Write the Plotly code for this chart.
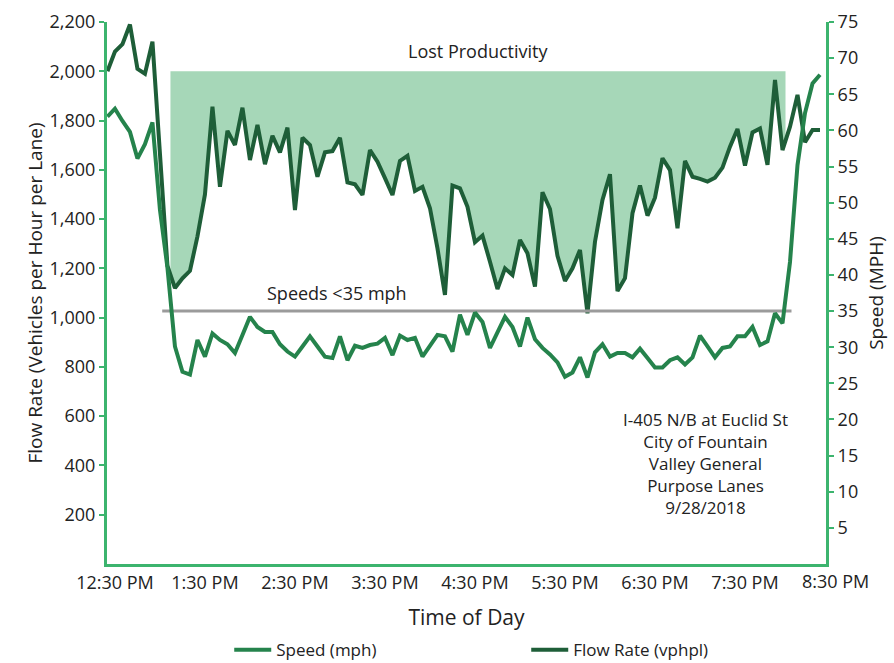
import numpy as np
import plotly.graph_objects as go

# ---------------- data ----------------
# sample times: minutes after 12:00 PM, every 5 minutes from 12:25 PM
start_min = 25
step_min = 5

flow_vphpl = [2000, 2080, 2110, 2190, 2010, 1990, 2120, 1660, 1210, 1120,
              1160, 1190, 1330, 1500, 1856, 1531, 1758, 1701, 1852, 1640,
              1782, 1623, 1738, 1671, 1771, 1437, 1730, 1701, 1572, 1671,
              1676, 1730, 1549, 1541, 1498, 1680, 1633, 1566, 1498, 1636,
              1657, 1514, 1531, 1444, 1281, 1092, 1536, 1525, 1450, 1306,
              1333, 1227, 1116, 1200, 1173, 1315, 1261, 1126, 1509, 1441,
              1251, 1149, 1200, 1275, 1018, 1308, 1478, 1582, 1108, 1160,
              1424, 1536, 1414, 1487, 1647, 1599, 1363, 1636, 1572, 1563,
              1552, 1568, 1609, 1694, 1766, 1617, 1752, 1768, 1620, 1965,
              1680, 1775, 1904, 1712, 1762, 1762]

speed_mph = [61.9, 63.0, 61.3, 59.8, 56.1, 58.1, 61.1, 49.0, 41.0, 30.1,
             26.6, 26.2, 31.0, 28.7, 31.9, 31.0, 30.4, 29.2, 31.7, 34.2,
             32.8, 32.1, 32.1, 30.4, 29.4, 28.7, 30.1, 31.5, 30.1, 28.7,
             28.5, 31.5, 28.2, 30.2, 29.9, 30.3, 30.5, 31.3, 28.9, 31.6,
             31.0, 31.3, 28.7, 30.3, 31.7, 31.5, 29.4, 34.5, 31.7, 34.8,
             33.5, 29.9, 32.2, 34.2, 32.8, 30.1, 34.1, 31.1, 29.9, 29.0,
             27.9, 25.9, 26.5, 28.6, 25.8, 29.3, 30.4, 28.7, 29.2, 29.2,
             28.6, 29.8, 28.5, 27.2, 27.2, 28.2, 28.6, 27.6, 28.6, 31.6,
             30.1, 28.6, 29.9, 30.1, 31.5, 31.5, 32.8, 30.3, 30.8, 34.7,
             33.3, 41.8, 55.2, 62.4, 66.5, 67.7]

tick_minutes = [30, 90, 150, 210, 270, 330, 390, 450, 510]
tick_labels = ["12:30 PM", "1:30 PM", "2:30 PM", "3:30 PM", "4:30 PM",
               "5:30 PM", "6:30 PM", "7:30 PM", "8:30 PM"]

flow_ticks = [200, 400, 600, 800, 1000, 1200, 1400, 1600, 1800, 2000, 2200]
speed_ticks = [5, 10, 15, 20, 25, 30, 35, 40, 45, 50, 55, 60, 65, 70, 75]

capacity_flow = 2000          # lost productivity reference flow
lost_start, lost_end = 67, 477  # minutes after noon
threshold_speed = 35
thr_start, thr_end = 61.5, 481

x_range = [24.7, 504.0]
note_text = ("I-405 N/B at Euclid St<br>City of Fountain<br>Valley General"
             "<br>Purpose Lanes<br>9/28/2018")

# ---------------- styles ----------------
FONT = "Open Sans"
TXT = "#222222"
AXIS_GREEN = "#3cb46e"
SPEED_C = "#25834c"
FLOW_C = "#1e5e38"
FILL_C = "#a6d7b8"
GRAY = "#9b9b9b"

t = start_min + step_min * np.arange(len(flow_vphpl))
flow = np.array(flow_vphpl, dtype=float)

# lost productivity polygon: between flow line and capacity
inner = (t > lost_start) & (t < lost_end)
px = np.concatenate([[lost_start], t[inner], [lost_end]])
py = np.concatenate([[np.interp(lost_start, t, flow)], flow[inner],
                     [np.interp(lost_end, t, flow)]])
poly_x = np.concatenate([px, [lost_end, lost_start, lost_start]])
poly_y = np.concatenate([py, [capacity_flow, capacity_flow, py[0]]])

fig = go.Figure()
fig.add_trace(go.Scatter(x=poly_x, y=poly_y, fill="toself", fillcolor=FILL_C,
                         line=dict(width=0), mode="lines", showlegend=False,
                         hoverinfo="skip"))
fig.add_trace(go.Scatter(x=[thr_start, thr_end], y=[threshold_speed] * 2,
                         yaxis="y2", mode="lines",
                         line=dict(color=GRAY, width=3), showlegend=False))
fig.add_trace(go.Scatter(x=t, y=speed_mph, yaxis="y2", mode="lines",
                         name="Speed (mph)",
                         line=dict(color=SPEED_C, width=4)))
fig.add_trace(go.Scatter(x=t, y=flow_vphpl, mode="lines",
                         name="Flow Rate (vphpl)",
                         line=dict(color=FLOW_C, width=4)))

W, H = 894, 663
ML, MR, MT, MB = 107, 68, 22, 99

fig.update_layout(
    width=W, height=H,
    margin=dict(l=ML, r=MR, t=MT, b=MB, autoexpand=False),
    paper_bgcolor="white", plot_bgcolor="white",
    font=dict(family=FONT, color=TXT, size=18),
    xaxis=dict(range=x_range, tickvals=tick_minutes[:-1],
               ticktext=tick_labels[:-1], showgrid=False, zeroline=False,
               showline=True, linecolor=AXIS_GREEN, linewidth=3,
               ticks="", tickfont=dict(size=18),
               title=dict(text="Time of Day", font=dict(size=21), standoff=18)),
    yaxis=dict(range=[0, 2200], tickvals=flow_ticks, tickformat=",",
               showgrid=False, zeroline=False, showline=True,
               linecolor=AXIS_GREEN, linewidth=3, ticks="outside",
               ticklen=5, tickwidth=2, tickcolor=AXIS_GREEN,
               tickfont=dict(size=18),
               title=dict(text="Flow Rate (Vehicles per Hour per Lane)",
                          font=dict(size=19), standoff=2)),
    yaxis2=dict(range=[0, 75], tickvals=speed_ticks, overlaying="y",
                side="right", showgrid=False, zeroline=False, showline=True,
                linecolor=AXIS_GREEN, linewidth=3, ticks="outside",
                ticklen=5, tickwidth=2, tickcolor=AXIS_GREEN,
                tickfont=dict(size=18),
                title=dict(text="Speed (MPH)", font=dict(size=19), standoff=13)),
    legend=dict(orientation="h", x=0.17, xanchor="left", y=-0.126,
                yanchor="top", itemwidth=37, entrywidth=245,
                entrywidthmode="pixels",
                font=dict(size=17), bgcolor="rgba(0,0,0,0)"),
)

# 8:30 PM label sits just past the right axis
last_frac = (tick_minutes[-1] - x_range[0]) / (x_range[1] - x_range[0])
fig.add_annotation(x=last_frac, xref="paper", xanchor="center", y=0,
                   yref="paper", yanchor="top", yshift=-3,
                   text=tick_labels[-1], showarrow=False, font=dict(size=18))

fig.add_annotation(x=(lost_start + lost_end) / 2, y=capacity_flow,
                   yanchor="bottom", yshift=6, text="Lost Productivity",
                   showarrow=False, font=dict(size=18))
fig.add_annotation(x=178, y=threshold_speed, yref="y2", yanchor="bottom",
                   yshift=4, text="Speeds &lt;35 mph", showarrow=False,
                   font=dict(size=18))
fig.add_annotation(x=0.833, xref="paper", xanchor="center", y=0.185,
                   yref="paper", yanchor="middle", text=note_text,
                   showarrow=False, align="center", font=dict(size=17))

fig.write_html(
    "out.html",
    config={"displayModeBar": False},
    post_script="document.body.style.margin='0';"
                "document.body.style.overflow='hidden';",
)
